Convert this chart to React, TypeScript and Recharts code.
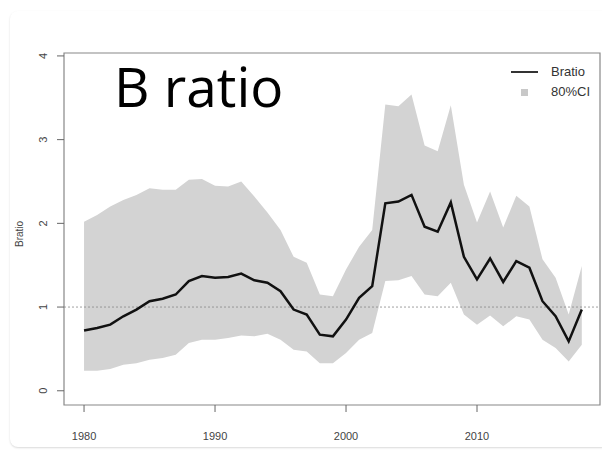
import React from 'react';
import {
  Area,
  ComposedChart,
  Line,
  ReferenceArea,
  ReferenceLine,
  XAxis,
  YAxis,
} from 'recharts';

const years = [
  1980, 1981, 1982, 1983, 1984, 1985, 1986, 1987, 1988, 1989,
  1990, 1991, 1992, 1993, 1994, 1995, 1996, 1997, 1998, 1999,
  2000, 2001, 2002, 2003, 2004, 2005, 2006, 2007, 2008, 2009,
  2010, 2011, 2012, 2013, 2014, 2015, 2016, 2017, 2018,
];

const bratio = [
  0.72, 0.75, 0.79, 0.89, 0.97, 1.07, 1.1, 1.15, 1.31, 1.37,
  1.35, 1.36, 1.4, 1.32, 1.29, 1.19, 0.97, 0.91, 0.67, 0.65,
  0.85, 1.11, 1.25, 2.24, 2.26, 2.34, 1.96, 1.9, 2.25, 1.6,
  1.33, 1.58, 1.3, 1.55, 1.47, 1.07, 0.89, 0.59, 0.97,
];

const upper = [
  2.02, 2.1, 2.2, 2.28, 2.34, 2.42, 2.4, 2.4, 2.52, 2.53,
  2.45, 2.44, 2.5, 2.32, 2.13, 1.92, 1.6, 1.53, 1.15, 1.13,
  1.45, 1.72, 1.92, 3.42, 3.4, 3.54, 2.93, 2.86, 3.41, 2.46,
  2.01, 2.38, 1.95, 2.33, 2.2, 1.57, 1.35, 0.91, 1.49,
];

const lower = [
  0.24, 0.24, 0.26, 0.31, 0.33, 0.37, 0.39, 0.43, 0.57, 0.61,
  0.61, 0.63, 0.66, 0.65, 0.68, 0.61, 0.49, 0.47, 0.33, 0.33,
  0.45, 0.61, 0.69, 1.31, 1.32, 1.37, 1.15, 1.13, 1.29, 0.91,
  0.79, 0.9, 0.77, 0.89, 0.85, 0.61, 0.51, 0.35, 0.55,
];

const xTicks = [1980, 1990, 2000, 2010];
const yTicks = [0, 1, 2, 3, 4];
const xDomain = [1978.47, 2019.39];
const yDomain = [-0.17, 4.035];

const data = years.map((year, i) => ({
  year,
  bratio: bratio[i],
  ci: [lower[i], upper[i]],
}));

const axisFont = '"Liberation Sans", Arial, sans-serif';

const YTick = (props: any) => {
  const { x, y, payload } = props;
  return (
    <text
      x={x}
      y={y}
      transform={`rotate(-90, ${x}, ${y})`}
      textAnchor="middle"
      dominantBaseline="central"
      fontSize={11}
      fill="#444"
      fontFamily={axisFont}
    >
      {payload.value}
    </text>
  );
};

const XTick = (props: any) => {
  const { x, y, payload } = props;
  return (
    <text
      x={x}
      y={y}
      textAnchor="middle"
      dominantBaseline="central"
      fontSize={11}
      fill="#444"
      fontFamily={axisFont}
    >
      {payload.value}
    </text>
  );
};

const LegendBox = () => (
  <div style={{ fontFamily: axisFont, fontSize: 13, color: '#333', lineHeight: '20px' }}>
    <div style={{ display: 'flex', alignItems: 'center' }}>
      <span style={{ width: 27, height: 2, background: '#333', marginRight: 13 }} />
      Bratio
    </div>
    <div style={{ display: 'flex', alignItems: 'center' }}>
      <span style={{ width: 7, height: 7, background: '#c8c8c8', margin: '0 23px 0 10px' }} />
      80%CI
    </div>
  </div>
);

export default function App() {
  return (
    <div style={{ position: 'absolute', left: 0, top: 0, width: 602, height: 451, background: '#fff' }}>
      <div
        style={{
          position: 'absolute',
          left: 10,
          top: 11,
          width: 600,
          height: 436,
          borderRadius: 8,
          boxShadow: '0 1px 2px rgba(0,0,0,0.15)',
        }}
      />
      <div style={{ position: 'absolute', left: 0, top: 0 }}>
        <ComposedChart
          width={602}
          height={451}
          data={data}
          margin={{ top: 53, right: 2, bottom: 0, left: 0 }}
        >
          <XAxis
            dataKey="year"
            type="number"
            domain={xDomain}
            ticks={xTicks}
            allowDataOverflow
            height={46}
            tickSize={7}
            tickMargin={24}
            axisLine={false}
            tickLine={{ stroke: '#666' }}
            tick={<XTick />}
          />
          <YAxis
            type="number"
            domain={yDomain}
            ticks={yTicks}
            allowDataOverflow
            width={64}
            tickSize={7}
            tickMargin={14}
            axisLine={false}
            tickLine={{ stroke: '#666' }}
            tick={<YTick />}
            label={{
              value: 'Bratio',
              angle: -90,
              position: 'insideLeft',
              dx: 14,
              dy: 18,
              style: { fontSize: 10, fill: '#444', fontFamily: axisFont },
            }}
          />
          <Area
            dataKey="ci"
            type="linear"
            stroke="none"
            fill="#d3d3d3"
            fillOpacity={1}
            isAnimationActive={false}
          />
          <ReferenceLine y={1} stroke="#888" strokeDasharray="2 2" strokeWidth={0.8} />
          <Line
            dataKey="bratio"
            type="linear"
            stroke="#111"
            strokeWidth={2.5}
            dot={false}
            isAnimationActive={false}
          />
          <ReferenceArea
            x1={xDomain[0]}
            x2={xDomain[1]}
            y1={yDomain[0]}
            y2={yDomain[1]}
            fill="none"
            stroke="#888"
            strokeWidth={1.2}
            ifOverflow="extendDomain"
          />
        </ComposedChart>
      </div>
      <div style={{ position: 'absolute', right: 12, top: 62 }}>
        <LegendBox />
      </div>
      <div
        style={{
          position: 'absolute',
          left: 114,
          top: 48,
          fontFamily: '"Open Sans", sans-serif',
          fontSize: 55,
          color: '#000',
          lineHeight: '76px',
        }}
      >
        B ratio
      </div>
    </div>
  );
}
